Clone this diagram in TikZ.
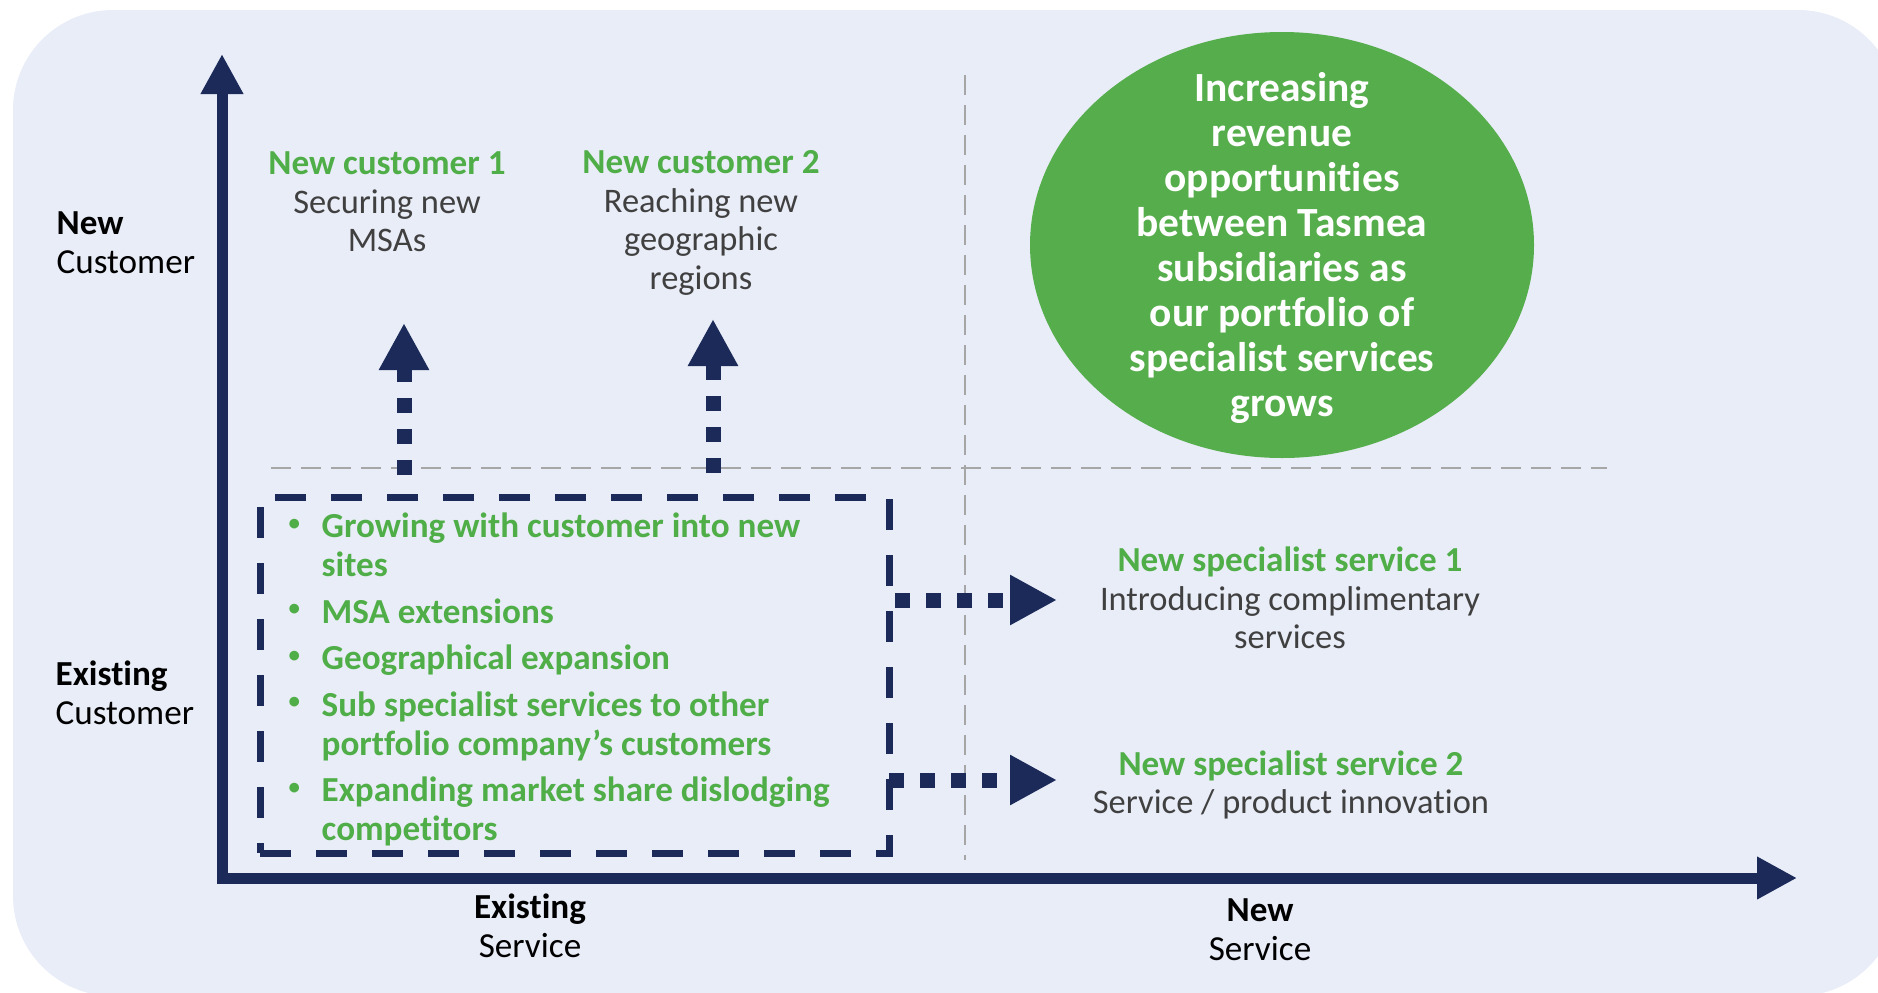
\documentclass[tikz,border=0pt]{standalone}
\usepackage{fontspec}
\setmainfont{Carlito}[Ligatures=NoCommon]
\usepackage{tikz}
\usetikzlibrary{positioning,arrows.meta,shapes.geometric}
\usepackage{xcolor}

\definecolor{navy}{HTML}{1B2A59}
\definecolor{leafgreen}{HTML}{50AE48}
\definecolor{ovalgreen}{HTML}{55AD4B}
\definecolor{panel}{HTML}{E9EDF8}
\definecolor{guide}{HTML}{A6A6A6}
\definecolor{desc}{HTML}{404040}

\newcommand{\dotitem}{\hspace{0.4mm}\raisebox{0.22em}{\fontsize{6.5}{6.5}\selectfont\textbullet}}

\begin{document}
\begin{tikzpicture}[x=0.1mm,y=-0.1mm,
  axis/.style={navy,line width=1.1mm},
  flow/.style={navy,line width=1.5mm,dash pattern=on 1.5mm off 1.6mm,-{Triangle[length=4.7mm,width=4.7mm]}},
  guideline/.style={guide,line width=0.25mm,dash pattern=on 2mm off 1mm},
  corebox/.style={draw=navy,line width=0.7mm,dash pattern=on 3.1mm off 2.5mm,minimum width=62.9mm,minimum height=35.6mm,inner sep=0pt},
  txt/.style={font=\fontsize{9.8}{11}\selectfont,align=center,text=desc},
  side/.style={font=\fontsize{10}{11}\selectfont,align=left,anchor=west,inner sep=0pt,text=black}]

\useasboundingbox (0,0) rectangle (1878,992);
\clip (0,0) rectangle (1878,992);
\fill[panel,rounded corners=10mm] (13,10) rectangle (1898,996);

% quadrant guides
\draw[guideline] (271,468) -- (1607,468);
\draw[guideline] (965,75) -- (965,860);

% axes
\coordinate (ytop) at (222,54);
\coordinate (origin) at (222,878);
\coordinate (xend) at (1797,878);
\draw[axis,{Triangle[length=4mm,width=4mm]}-{Triangle[length=4mm,width=4mm]}] (ytop) -- (origin) -- (xend);

\node[side] (ynew) at (56,243) {\textbf{New}\\Customer};
\node[side] (yold) at (55,693) {\textbf{Existing}\\Customer};
\node[txt,font=\fontsize{10}{11}\selectfont,text=black] (xold) at (530,926) {\textbf{Existing}\\Service};
\node[txt,font=\fontsize{10}{11}\selectfont,text=black] (xnew) at (1260,930) {\textbf{New}\\Service};

% existing customer / existing service
\node[corebox] (core) at (574.5,675) {};
\node[anchor=north west,inner sep=0pt,font=\fontsize{10}{11}\selectfont\bfseries,text=leafgreen] (list) at (284,510) {%
\begin{tabular}{@{}p{3.7mm}@{}l@{}}
\dotitem & Growing with customer into new\\
 & sites\\[0.8mm]
\dotitem & MSA extensions\\[0.8mm]
\dotitem & Geographical expansion\\[0.8mm]
\dotitem & Sub specialist services to other\\
 & portfolio company’s customers\\[0.8mm]
\dotitem & Expanding market share dislodging\\
 & competitors
\end{tabular}};

% new customers
\node[txt] (cust1) at (387,202) {\textcolor{leafgreen}{\fontsize{10}{11}\selectfont\bfseries New customer 1}\\Securing new\\MSAs};
\node[txt] (cust2) at (701,223) {\textcolor{leafgreen}{\fontsize{10}{11}\selectfont\bfseries New customer 2}\\Reaching new\\geographic\\regions};

% new services
\node[txt] (serv1) at (1290,598) {\textcolor{leafgreen}{\fontsize{10}{11}\selectfont\bfseries New specialist service 1}\\Introducing complimentary\\services};
\node[txt] (serv2) at (1291,785) {\textcolor{leafgreen}{\fontsize{10}{11}\selectfont\bfseries New specialist service 2}\\Service / product innovation};

% new customer / new service
\node[ellipse,fill=ovalgreen,minimum width=50.4mm,minimum height=42.6mm,inner sep=0pt] (growth) at (1282,245) {};
\node[font=\fontsize{11.8}{12.8}\selectfont\bfseries,text=white,align=center] (growthtext) at (1282,248) {Increasing\\revenue\\opportunities\\between Tasmea\\subsidiaries as\\our portfolio of\\specialist services\\grows};

% growth arrows out of the box
\coordinate (up1a) at (404,475);
\coordinate (up1b) at (404,323);
\coordinate (up2a) at (713,473);
\coordinate (up2b) at (713,319);
\coordinate (rt1a) at (895,600);
\coordinate (rt1b) at (1057,600);
\coordinate (rt2a) at (889,780);
\coordinate (rt2b) at (1057,780);
\draw[flow] (up1a) -- (up1b);
\draw[flow] (up2a) -- (up2b);
\draw[flow] (rt1a) -- (rt1b);
\draw[flow] (rt2a) -- (rt2b);

\end{tikzpicture}
\end{document}
